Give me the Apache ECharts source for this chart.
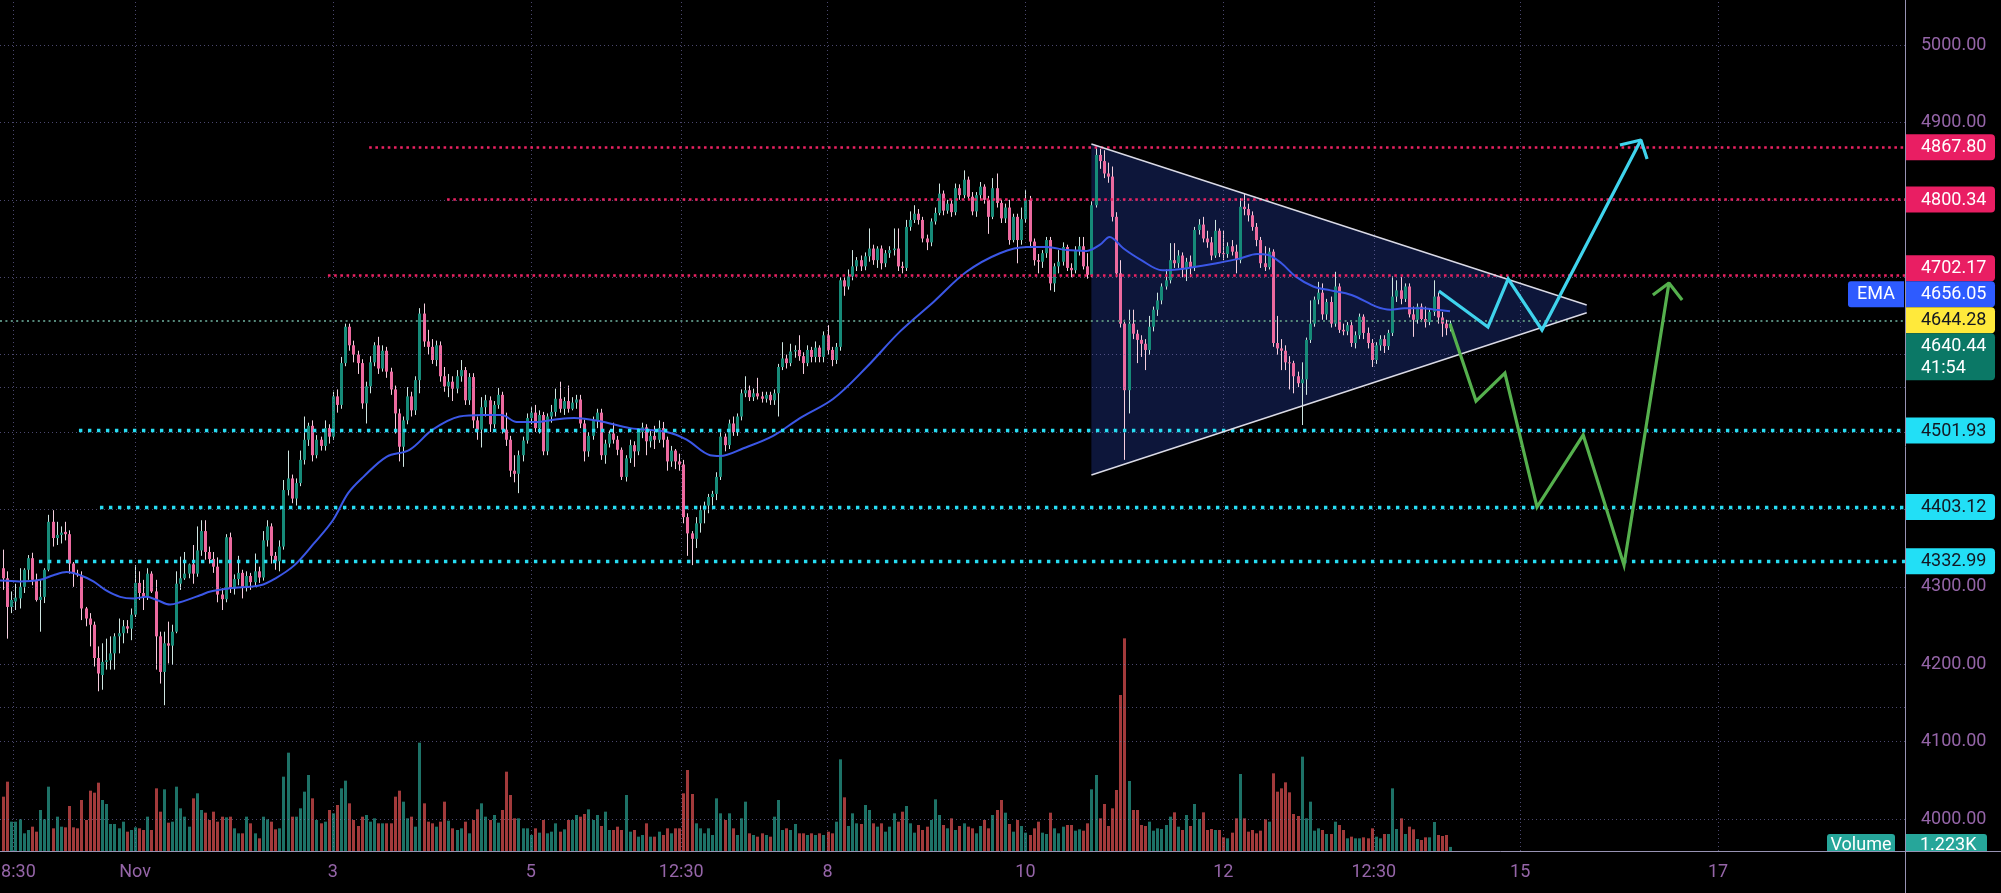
<!DOCTYPE html>
<html><head><meta charset="utf-8">
<script src="https://cdn.jsdelivr.net/npm/echarts@6/dist/echarts.min.js"></script>
<style>html,body{margin:0;padding:0;background:#000;overflow:hidden;}#c{width:2001px;height:893px;}</style>
</head><body><div id="c"></div>
<script>
// hours counted from 2021-11-01 00:00, 1h candles
const firstHour = -32;
// [open, high, low, close]
const ohlc = [
[4324,4348,4296,4311],[4311,4320,4233,4274],[4274,4294,4266,4283],[4281,4304,4270,4286],[4285,4324,4272,4300],[4300,4324,4292,4322],[4322,4341,4309,4337],[4337,4344,4302,4309],[4309,4317,4281,4283],[4283,4309,4242,4287],
[4287,4324,4279,4322],[4322,4393,4320,4384],[4384,4399,4352,4363],[4363,4384,4354,4367],[4367,4378,4356,4370],[4371,4384,4360,4368],[4368,4373,4317,4330],[4330,4332,4300,4317],[4317,4322,4313,4315],[4315,4320,4257,4272],
[4272,4274,4249,4259],[4259,4266,4223,4251],[4251,4255,4197,4208],[4208,4223,4165,4188],[4186,4227,4167,4203],[4203,4233,4193,4205],[4205,4236,4193,4214],[4214,4240,4193,4236],[4236,4259,4214,4240],[4240,4257,4227,4249],
[4249,4257,4240,4246],[4246,4272,4231,4264],[4264,4328,4261,4305],[4305,4320,4283,4292],[4292,4309,4270,4287],[4287,4324,4283,4317],[4317,4320,4292,4294],[4294,4309,4193,4236],[4236,4242,4175,4190],[4190,4242,4147,4227],
[4227,4255,4201,4224],[4224,4251,4199,4242],[4242,4320,4240,4304],[4304,4339,4296,4311],[4311,4345,4309,4317],[4317,4330,4311,4329],[4329,4354,4304,4317],[4317,4378,4313,4347],
[4347,4386,4340,4372],[4372,4386,4335,4345],[4345,4352,4330,4336],[4336,4345,4318,4326],[4326,4338,4280,4290],[4290,4298,4270,4284],[4284,4368,4280,4364],[4364,4370,4292,4298],[4298,4316,4290,4310],[4310,4340,4302,4318],
[4318,4322,4285,4300],[4300,4320,4294,4314],[4314,4318,4296,4306],[4306,4343,4300,4320],[4320,4326,4305,4312],[4312,4372,4308,4360],[4360,4386,4352,4378],[4378,4382,4330,4340],[4340,4345,4322,4333],[4333,4360,4320,4352],
[4352,4438,4348,4425],[4425,4476,4418,4440],[4440,4445,4408,4414],[4414,4440,4405,4434],[4434,4476,4430,4464],[4464,4520,4458,4490],[4490,4512,4482,4508],[4508,4515,4462,4470],[4470,4496,4466,4490],[4490,4494,4476,4482],
[4482,4515,4476,4505],[4505,4510,4485,4494],[4494,4552,4490,4546],[4546,4555,4525,4535],[4535,4597,4530,4589],[4589,4640,4585,4636],[4636,4640,4605,4612],[4612,4618,4590,4600],[4600,4605,4575,4589],[4589,4594,4530,4537],
[4537,4565,4511,4559],[4559,4598,4550,4590],[4590,4616,4585,4612],[4612,4623,4575,4582],[4582,4612,4578,4605],[4605,4610,4570,4578],[4578,4583,4548,4555],[4555,4560,4498,4524],[4524,4530,4462,4481],[4481,4520,4455,4515],
[4515,4558,4510,4546],[4546,4552,4520,4528],[4528,4572,4522,4567],[4567,4660,4550,4653],[4653,4666,4610,4617],[4617,4632,4600,4610],[4610,4620,4588,4593],[4593,4618,4585,4612],[4612,4617,4565,4572],[4572,4584,4552,4559],
[4559,4575,4545,4565],[4565,4572,4540,4556],[4556,4580,4550,4572],[4572,4593,4565,4580],[4580,4584,4535,4541],[4541,4576,4535,4571],[4571,4576,4505,4515],[4515,4520,4490,4503],[4503,4545,4480,4532],[4532,4548,4520,4541],
[4541,4546,4500,4510],[4510,4540,4505,4535],[4535,4557,4530,4548],[4548,4552,4498,4503],[4503,4525,4482,4490],[4490,4495,4442,4450],[4450,4470,4435,4446],[4446,4476,4421,4470],[4470,4494,4462,4489],[4489,4524,4485,4518],
[4518,4532,4510,4525],[4525,4535,4500,4505],[4505,4528,4498,4522],[4522,4526,4470,4475],[4475,4524,4470,4520],[4520,4535,4512,4526],[4526,4556,4520,4543],[4543,4565,4525,4530],[4530,4545,4522,4540],[4540,4560,4525,4530],
[4530,4545,4528,4538],[4538,4548,4530,4542],[4542,4548,4505,4511],[4511,4516,4462,4475],[4475,4500,4468,4495],[4495,4520,4490,4515],[4515,4530,4505,4525],[4525,4530,4464,4470],[4470,4490,4459,4485],[4485,4502,4480,4498],
[4498,4512,4485,4490],[4490,4495,4470,4477],[4477,4480,4438,4442],[4442,4470,4436,4466],[4466,4490,4460,4483],[4483,4488,4455,4475],[4475,4505,4470,4500],[4500,4512,4492,4506],[4506,4510,4470,4488],[4488,4502,4480,4495],
[4495,4508,4478,4490],[4490,4515,4486,4505],[4505,4513,4480,4490],[4490,4494,4450,4462],[4462,4482,4455,4476],[4476,4478,4452,4462],[4462,4472,4450,4458],[4458,4464,4382,4390],[4390,4395,4340,4369],[4369,4372,4328,4362],
[4362,4390,4350,4382],[4382,4405,4370,4399],[4399,4410,4382,4405],[4405,4420,4395,4416],[4416,4424,4405,4420],[4420,4448,4412,4442],[4442,4500,4438,4494],[4494,4498,4475,4483],[4483,4516,4478,4511],[4511,4520,4495,4500],
[4500,4524,4495,4520],[4520,4555,4515,4550],[4550,4572,4545,4554],[4554,4560,4540,4545],[4545,4556,4540,4550],[4550,4570,4542,4546],[4546,4552,4538,4543],[4543,4552,4538,4548],[4548,4552,4535,4541],[4541,4555,4535,4550],
[4550,4588,4520,4584],[4584,4616,4580,4595],[4595,4600,4582,4589],[4589,4614,4585,4604],[4604,4612,4596,4606],[4606,4625,4592,4598],[4598,4603,4575,4589],[4589,4612,4585,4606],[4606,4610,4590,4597],[4597,4617,4590,4609],
[4609,4612,4590,4597],[4597,4630,4590,4625],[4625,4638,4600,4606],[4606,4610,4585,4593],[4593,4615,4588,4610],[4610,4700,4605,4696],[4696,4700,4676,4688],[4688,4710,4684,4701],[4701,4735,4696,4714],[4714,4726,4708,4722],
[4722,4728,4708,4714],[4714,4732,4709,4727],[4727,4763,4720,4737],[4737,4742,4716,4722],[4722,4740,4712,4737],[4737,4741,4710,4718],[4718,4735,4713,4731],[4731,4740,4725,4735],[4735,4763,4728,4737],[4737,4763,4708,4714],
[4714,4720,4705,4712],[4712,4774,4708,4765],[4765,4785,4760,4774],[4774,4793,4770,4782],[4782,4788,4768,4774],[4774,4778,4745,4750],[4750,4755,4735,4745],[4745,4776,4740,4772],[4772,4790,4768,4783],[4783,4821,4780,4808],
[4808,4812,4780,4786],[4786,4800,4782,4795],[4795,4800,4778,4784],[4784,4821,4780,4815],[4815,4820,4800,4806],[4806,4838,4802,4826],[4826,4830,4800,4804],[4804,4810,4780,4785],[4785,4810,4778,4806],[4806,4823,4800,4817],
[4817,4820,4795,4800],[4800,4805,4756,4778],[4778,4828,4775,4815],[4815,4834,4790,4796],[4796,4800,4770,4776],[4776,4795,4770,4790],[4790,4800,4742,4748],[4748,4782,4745,4778],[4778,4782,4718,4748],[4748,4790,4742,4775],
[4775,4813,4770,4800],[4800,4805,4740,4746],[4746,4750,4715,4722],[4722,4730,4705,4720],[4720,4735,4712,4731],[4731,4752,4725,4748],[4748,4752,4683,4692],[4692,4718,4681,4714],[4714,4735,4705,4720],[4720,4745,4715,4739],
[4739,4742,4708,4712],[4712,4718,4700,4709],[4709,4740,4705,4735],[4735,4752,4728,4740],[4740,4752,4710,4714],[4714,4731,4698,4703],[4703,4798,4700,4793],[4793,4867.8,4790,4858],[4858,4866,4840,4850],[4850,4864,4828,4834],
[4834,4848,4822,4830],[4830,4843,4772,4778],[4778,4784,4700,4705],[4705,4722,4635,4640],[4640,4645,4464,4554],[4554,4658,4524,4640],[4640,4658,4620,4627],[4627,4632,4589,4619],[4619,4625,4597,4614],[4614,4620,4580,4606],
[4606,4650,4600,4636],[4636,4662,4630,4658],[4658,4680,4650,4670],[4670,4692,4665,4688],[4688,4710,4684,4696],[4696,4744,4692,4722],[4722,4744,4712,4718],[4718,4735,4712,4728],[4728,4732,4700,4710],[4710,4725,4695,4720],
[4720,4728,4700,4712],[4712,4765,4708,4761],[4761,4775,4755,4768],[4768,4778,4745,4750],[4750,4760,4738,4745],[4745,4752,4722,4728],[4728,4774,4725,4760],[4760,4763,4726,4731],[4731,4760,4722,4730],[4730,4745,4725,4740],
[4740,4748,4728,4733],[4733,4742,4705,4722],[4722,4802,4718,4791],[4791,4808,4780,4788],[4788,4795,4772,4780],[4780,4785,4760,4765],[4765,4770,4740,4748],[4748,4752,4712,4718],[4718,4740,4708,4713],[4713,4738,4710,4733],
[4733,4736,4610,4615],[4615,4650,4600,4608],[4608,4620,4580,4605],[4605,4612,4580,4590],[4590,4598,4555,4589],[4589,4592,4550,4572],[4572,4578,4558,4563],[4563,4590,4509,4568],[4568,4622,4548,4619],[4619,4670,4615,4640],
[4640,4675,4636,4671],[4671,4694,4665,4680],[4680,4692,4645,4652],[4652,4672,4645,4668],[4668,4675,4635,4640],[4640,4707,4636,4688],[4688,4692,4628,4632],[4632,4640,4625,4630],[4630,4642,4625,4638],[4638,4642,4610,4615],
[4615,4630,4608,4625],[4625,4653,4620,4649],[4649,4652,4620,4628],[4628,4635,4608,4615],[4615,4620,4584,4593],[4593,4616,4588,4612],[4612,4625,4605,4620],[4620,4625,4602,4611],[4611,4632,4606,4628],[4628,4701,4624,4675],
[4675,4696,4668,4683],[4683,4700,4665,4672],[4672,4692,4668,4688],[4688,4692,4648,4652],[4652,4662,4623,4645],[4645,4666,4640,4662],[4662,4666,4642,4646],[4646,4662,4635,4642],[4642,4660,4638,4655],[4655,4696,4650,4675],
[4675,4680,4640,4648],[4648,4655,4623,4640],[4640,4645,4625,4634],[4634,4644,4630,4640.44]
];
// volume in thousands
const volumeK = [
16.3,20.8,8.8,8.8,9.5,5.3,6.3,7.3,5.8,12.3,9.5,19.3,6.8,10.3,7.3,7.1,13.5,7.1,6.8,15.3,9.3,18.1,17.5,20.5,15.3,14.1,8.1,8.1,6.8,8.8,5.8,6.3,
7.1,6.8,6.3,10.3,6.3,18.8,11.8,18.5,8.5,8.8,19.3,12.8,10.3,7.3,15.8,17.3,12.3,11.5,9.3,11.8,8.8,10.3,10.1,10.3,6.8,5.3,5.3,10.3,8.3,5.3,3.8,10.3,9.5,8.8,6.5,6.8,
22.3,29.5,10.3,10.3,12.8,17.8,22.8,15.8,9.3,8.3,8.8,12.3,11.3,13.8,18.8,21.1,14.3,9.3,7.5,10.3,10.8,8.8,9.8,8.3,8.3,8.3,8.3,16.3,18.1,14.8,9.8,10.3,7.3,32.5,
14.3,8.8,8.3,7.3,8.8,14.8,9.1,6.8,6.3,6.8,8.8,5.3,9.3,12.5,14.3,10.3,9.3,10.8,8.5,12.3,23.8,16.8,9.8,9.8,6.8,6.8,4.8,6.8,5.5,9.3,5.3,5.8,8.3,5.8,6.5,9.3,9.3,10.8,
10.3,11.1,12.5,9.3,10.8,7.5,11.8,6.3,6.3,7.3,6.3,16.8,5.8,6.3,4.3,4.8,8.3,4.3,4.3,5.8,4.8,6.8,5.3,6.8,6.8,17.3,24.3,17.1,8.3,6.8,5.3,6.8,4.8,15.8,11.3,9.3,11.3,6.8,4.8,9.8,14.8,5.3,
4.8,4.3,5.3,4.8,4.3,10.3,15.3,6.3,6.8,6.3,8.1,5.3,5.3,4.8,5.3,4.8,5.3,4.8,5.8,5.3,8.8,27.5,16.1,7.5,11.3,8.3,8.1,13.8,12.3,8.3,7.3,8.3,5.8,7.3,11.3,8.8,11.8,13.5,8.3,5.5,
7.8,6.3,7.3,9.3,15.5,10.8,7.8,6.8,9.8,6.3,7.5,8.3,7.3,6.8,5.3,7.5,9.3,6.8,10.8,12.3,15.3,
11.5,8.1,5.8,9.3,7.5,5.5,4.8,6.8,8.8,5.5,5.1,11.5,6.8,5.3,7.3,7.8,7.8,6.1,6.5,6.1,8.3,18.5,22.8,9.8,14.1,7.5,12.8,18.3,46.8,63.8,
21.0,12.3,12.3,7.8,7.5,8.8,6.1,6.8,6.6,7.8,10.3,11.6,7.3,6.3,10.8,7.5,14.1,9.6,11.6,6.3,6.6,6.3,6.3,4.1,3.8,5.5,9.8,23.1,9.8,5.8,
6.3,5.3,6.1,9.5,8.8,23.3,17.8,18.8,20.6,17.6,11.1,10.5,28.3,9.8,14.8,6.1,6.8,6.3,5.1,5.1,8.8,7.8,6.3,3.8,4.3,3.8,3.8,4.1,3.8,6.8,
4.3,3.8,5.1,5.1,18.8,6.6,9.8,5.1,7.3,6.5,3.6,3.3,4.1,4.1,8.7,4.8,4.5,4.8,1.223
];
// EMA
const emaHours = [-32.75,-28,-23,-19.8,-16.6,-13.3,-10.1,-6.9,-3.6,-0.4,2.8,5.3,8.5,10.9,15.8,18.3,23,30.4,34.1,38.7,43.4,48,51.7,55.4,61,66.6,72.2,78.7,84.2,88.9,92.6,97.2,101.9,106.5,112.8,120.1,129,133.8,139.5,141.9,147.6,154.8,161.3,169.4,177.5,185.6,193.7,201.7,209.8,216.3,221.2,226,230.9,234.1,236.4,239.8,244.1,249.2,254.3,260.3,267.9,272.2,274.7,278.1,281.5,285.8,290,295.1,301.1,304.5,307.9,312.1,315.5,319];
const emaValues = [4308,4307,4309,4315,4319,4315,4307,4295,4287,4285,4287,4283,4277,4280,4289,4294,4298,4302,4311,4328,4356,4386,4421,4442,4468,4477,4503,4520,4522,4522,4513,4513,4516,4518,4514,4505,4500,4490,4470,4469,4479,4495,4518,4543,4584,4630,4668,4707,4731,4739,4739,4735,4734,4742,4752,4737,4722,4709,4711,4716,4724,4730,4729,4718,4701,4688,4683,4677,4662,4658,4660,4660,4658,4656.05];

const xTickHours = [-29.5,0,48,96,132.5,168,216,264,300.5,336,384];
const xTickLabels = ['18:30','Nov','3','5','12:30','8','10','12','12:30','15','17'];
const yTickValues = [4000,4100,4200,4300,4900,5000];
const gridPrices = [4000,4100,4145,4200,4300,4400,4500,4558,4600,4700,4800,4900,5000];
const resistanceLevels = [4867.80,4800.34,4702.17];
const resistanceFrom = [56.8,75.7,46.8];
const supportLevels = [4501.93,4403.12,4332.99];
const supportFrom = [-13.6,-8.5,-23.3];
const markLevel = 4644.28;
const lastPrice = 4640.44;
const emaLast = 4656.05;
const lastVolumeText = '1.223K';
const countdown = '41:54';
const triangle = [[232,4872.1],[352.15,4664.1],[352.15,4654.1],[232,4444.4]];
const bullPath = [[316.3,4682.2],[328.2,4635.7],[333.1,4697.7],[341.3,4631.8],[365.3,4877.3]];
const bullHead = [[360.2,4870.8],[365.3,4877.3],[366.8,4852.7]];
const bearPath = [[319.0,4639.5],[325.3,4540.0],[332.3,4576.2],[340.1,4403.1],[351.3,4496.1],[361.2,4328],[372.1,4692.5]];
const bearHead = [[368.2,4677.0],[372.1,4692.5],[375.3,4670.5]];

const xMin = -32.75, xMax = 429.36, yMin = 3958.66, yMax = 5058.14;
const AXIS_TXT = '#9565a8';
const GRID_C = 'rgba(125,120,185,0.6)';

const candleData = ohlc.map((r, i) => [firstHour + i, r[0], r[3], r[2], r[1]]);
const volData = volumeK.map((v, i) => [firstHour + i, v, ohlc[i][3] >= ohlc[i][0] ? 1 : 0]);

const chart = echarts.init(document.getElementById('c'), null, {renderer: 'canvas'});
const lvl = (arr, from, color, width, dash) => arr.map((v, i) => [
  {coord: [from[i], v], lineStyle: {color, width, type: dash}},
  {coord: [xMax, v]}
]);

chart.setOption({
  backgroundColor: '#000',
  animation: false,
  grid: [
    {left: 0, right: 96, top: 0, bottom: 42, containLabel: false, outerBoundsMode: 'none'},
    {left: 0, right: 96, top: 551, bottom: 42, containLabel: false, outerBoundsMode: 'none'}
  ],
  xAxis: [
    {type: 'value', gridIndex: 0, min: xMin, max: xMax,
      axisLine: {show: false}, axisTick: {show: false}, splitLine: {show: false},
      axisLabel: {customValues: xTickHours, color: AXIS_TXT, fontSize: 18, fontFamily: 'Roboto', margin: 12,
        formatter: v => { const k = xTickHours.findIndex(h => Math.abs(h - v) < 0.01); return k >= 0 ? xTickLabels[k] : ''; }}},
    {type: 'value', gridIndex: 1, min: xMin, max: xMax, show: false}
  ],
  yAxis: [
    {type: 'value', gridIndex: 0, min: yMin, max: yMax, position: 'right',
      axisLine: {show: false}, axisTick: {show: false}, splitLine: {show: false},
      axisLabel: {customValues: yTickValues, color: AXIS_TXT, fontSize: 18, fontFamily: 'Roboto', margin: 16, align: 'left',
        formatter: v => v.toFixed(2)}},
    {type: 'value', gridIndex: 1, min: 0, max: 90, show: false}
  ],
  series: [
    {type: 'line', name: 'grid', data: [], z: 0, silent: true,
      markLine: {silent: true, symbol: ['none', 'none'], label: {show: false},
        lineStyle: {color: GRID_C, width: 1, type: [1, 3]},
        data: xTickHours.map(h => ({xAxis: h})).concat(gridPrices.map(p => ({yAxis: p})))}},
    {type: 'custom', name: 'triangleFill', z: 1, silent: true, data: [triangle[0]],
      encode: {x: 0, y: 1},
      renderItem: (params, api) => ({type: 'polygon', shape: {points: triangle.map(c => api.coord(c))},
        style: {fill: 'rgba(24,42,112,0.52)'}})},
    {type: 'custom', name: 'Volume', xAxisIndex: 1, yAxisIndex: 1, z: 2, silent: true, data: volData,
      encode: {x: 0, y: 1},
      renderItem: (params, api) => {
        const p0 = api.coord([api.value(0), 0]), p1 = api.coord([api.value(0), api.value(1)]);
        const x = Math.round(p0[0]) - 1;
        return {type: 'rect', shape: {x, y: p1[1], width: 3, height: p0[1] - p1[1]},
          style: {fill: api.value(2) ? '#1d7267' : '#a23a3b'}};
      }},
    {type: 'custom', name: 'Price', z: 3, silent: true, data: candleData,
      encode: {x: 0, y: [1, 2, 3, 4]},
      renderItem: (params, api) => {
        const t = api.value(0), o = api.value(1), c = api.value(2), l = api.value(3), h = api.value(4);
        const pO = api.coord([t, o]), pC = api.coord([t, c]), pL = api.coord([t, l]), pH = api.coord([t, h]);
        const up = c >= o;
        const cx = Math.round(pO[0]);
        const top = Math.min(pO[1], pC[1]);
        const bh = Math.max(1, Math.abs(pO[1] - pC[1]));
        return {type: 'group', children: [
          {type: 'line', shape: {x1: cx + 0.5, y1: pH[1], x2: cx + 0.5, y2: pL[1]},
            style: {stroke: up ? '#cfe6e2' : '#f6cfdf', lineWidth: 1}},
          {type: 'rect', shape: {x: cx - 1, y: top, width: 3, height: bh},
            style: {fill: up ? '#168a78' : '#ec6a9f'}}
        ]};
      }},
    {type: 'line', name: 'EMA', z: 4, silent: true, showSymbol: false, symbol: 'none', smooth: 0.35,
      data: emaHours.map((h, i) => [h, emaValues[i]]),
      lineStyle: {color: '#3b57e6', width: 2}},
    {type: 'line', name: 'levels', data: [], z: 5, silent: true,
      markLine: {silent: true, symbol: ['none', 'none'], label: {show: false},
        data: lvl(resistanceLevels, resistanceFrom, '#ea2262', 2.6, [2.6, 3.6])
          .concat(lvl(supportLevels, supportFrom, '#27dcf2', 3.4, [3.4, 5.6]))
          .concat(lvl([markLevel], [xMin], '#55897b', 1.8, [2, 3.4]))}},
    {type: 'line', name: 'triUpper', z: 6, silent: true, symbol: 'none',
      data: [triangle[0], triangle[1]], lineStyle: {color: '#dadae6', width: 1.5}},
    {type: 'line', name: 'triLower', z: 6, silent: true, symbol: 'none',
      data: [triangle[3], triangle[2]], lineStyle: {color: '#dadae6', width: 1.5}},
    {type: 'line', name: 'bull', z: 7, silent: true, symbol: 'none', data: bullPath,
      lineStyle: {color: '#3fd3ec', width: 3.2, join: 'miter'}},
    {type: 'line', name: 'bullHead', z: 7, silent: true, symbol: 'none', data: bullHead,
      lineStyle: {color: '#3fd3ec', width: 3.2}},
    {type: 'line', name: 'bear', z: 7, silent: true, symbol: 'none', data: bearPath,
      lineStyle: {color: '#55b04d', width: 3.2, join: 'miter'}},
    {type: 'line', name: 'bearHead', z: 7, silent: true, symbol: 'none', data: bearHead,
      lineStyle: {color: '#55b04d', width: 3.2}}
  ]
});

// price tags on the right scale, stacked like the original
const toY = v => chart.convertToPixel({xAxisIndex: 0, yAxisIndex: 0}, [0, v])[1];
const volBase = chart.convertToPixel({xAxisIndex: 1, yAxisIndex: 1}, [0, 0])[1];
const tags = [
  {v: resistanceLevels[0], bg: '#e91e63', fg: '#ffffff'},
  {v: resistanceLevels[1], bg: '#e91e63', fg: '#ffffff'},
  {v: resistanceLevels[2], bg: '#e91e63', fg: '#ffffff'},
  {v: emaLast, bg: '#2e5bff', fg: '#ffffff', ema: true},
  {v: markLevel, bg: '#ffe93b', fg: '#131722', anchor: true},
  {v: lastPrice, bg: '#0b7866', fg: '#ffffff', sub: countdown},
  {v: supportLevels[0], bg: '#22dff6', fg: '#131722'},
  {v: supportLevels[1], bg: '#22dff6', fg: '#131722'},
  {v: supportLevels[2], bg: '#22dff6', fg: '#131722'}
];
const H1 = 26, H2 = 47;
tags.forEach(t => { t.cy = toY(t.v); t.h = t.sub ? H2 : H1; });
const a = tags.findIndex(t => t.anchor);
tags[a].top = tags[a].cy - H1 / 2;
for (let i = a - 1; i >= 0; i--) {
  tags[i].top = Math.min(tags[i].cy - H1 / 2, tags[i + 1].top - tags[i].h);
}
for (let i = a + 1; i < tags.length; i++) {
  tags[i].top = Math.max(tags[i].cy - H1 / 2, tags[i - 1].top + tags[i - 1].h);
}
const AX = 1905;
const g = [];
tags.forEach(t => {
  g.push({type: 'rect', z: 100, shape: {x: AX, y: t.top, width: 90, height: t.h, r: [0, 4, 4, 0]}, style: {fill: t.bg}});
  g.push({type: 'text', z: 101, x: 1921, y: t.top + H1 / 2 + 0.5,
    style: {text: t.v.toFixed(2), fill: t.fg, font: '18px Roboto', verticalAlign: 'middle', align: 'left'}});
  if (t.sub) g.push({type: 'text', z: 101, x: 1921, y: t.top + 35,
    style: {text: t.sub, fill: t.fg, font: '18px Roboto', verticalAlign: 'middle', align: 'left'}});
  if (t.ema) {
    g.push({type: 'rect', z: 100, shape: {x: 1848, y: t.top, width: 56, height: t.h, r: [3, 0, 0, 3]}, style: {fill: t.bg}});
    g.push({type: 'text', z: 101, x: 1876, y: t.top + H1 / 2 + 0.5,
      style: {text: 'EMA', fill: '#ffffff', font: '18px Roboto', verticalAlign: 'middle', align: 'center'}});
  }
});
// volume tags, cut by the time scale (only the upper part shows)
const vt = volBase - 17;
g.push({type: 'rect', z: 100, shape: {x: 1827, y: vt, width: 68, height: 17, r: [3, 3, 0, 0]}, style: {fill: '#26a69a'}});
g.push({type: 'rect', z: 100, shape: {x: AX, y: vt, width: 82, height: 17, r: [0, 3, 0, 0]}, style: {fill: '#26a69a'}});
g.push({type: 'text', z: 105, x: 1861, y: vt + 2, style: {text: 'Volume', fill: '#ffffff', font: '18px Roboto', verticalAlign: 'top', align: 'center'}});
g.push({type: 'text', z: 105, x: 1920, y: vt + 2, style: {text: lastVolumeText, fill: '#ffffff', font: '18px Roboto', verticalAlign: 'top', align: 'left'}});
g.push({type: 'rect', zlevel: 1, z: 1, shape: {x: 1800, y: volBase + 1, width: 201, height: 893 - volBase - 1}, style: {fill: '#000'}});
// scale borders
g.push({type: 'line', zlevel: 1, z: 2, shape: {x1: 0, y1: volBase + 0.5, x2: 2001, y2: volBase + 0.5}, style: {stroke: '#9893b3', lineWidth: 1}});
g.push({type: 'line', zlevel: 1, z: 2, shape: {x1: AX + 0.5, y1: 0, x2: AX + 0.5, y2: 893}, style: {stroke: '#9893b3', lineWidth: 1}});
chart.setOption({graphic: {elements: g}});
</script>
</body></html>
